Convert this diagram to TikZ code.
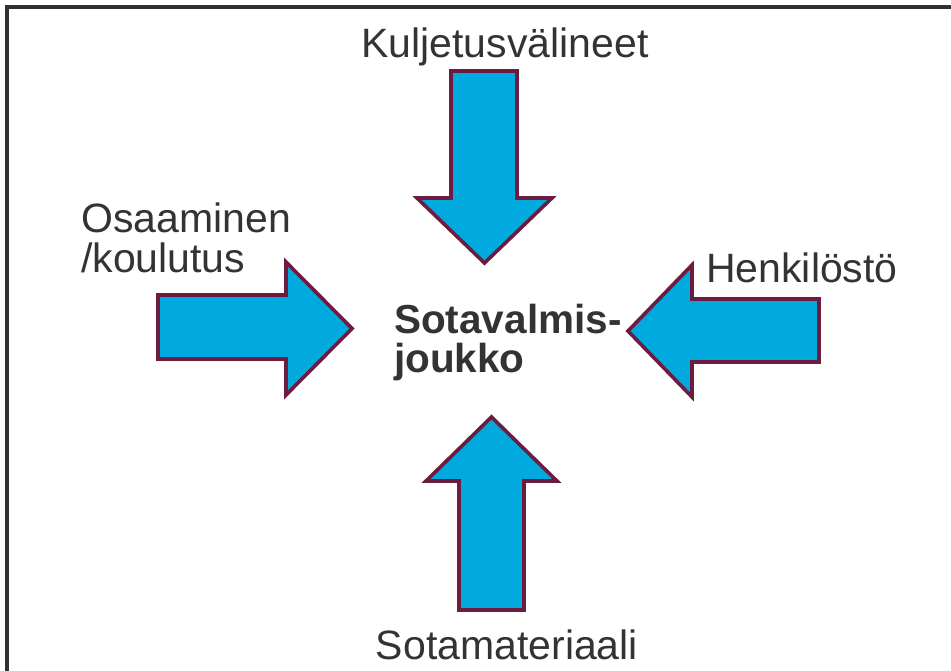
\documentclass[tikz,border=0pt]{standalone}
\usepackage{fontspec}
\setmainfont{Liberation Sans}
\usetikzlibrary{positioning}
\definecolor{nuolisin}{HTML}{00AADE}
\definecolor{nuolireuna}{HTML}{6D1B3F}
\definecolor{tekstiharmaa}{HTML}{333333}
\definecolor{kehys}{HTML}{303030}

\begin{document}
\begin{tikzpicture}[x=1pt,y=-1pt,
  nuoli/.style={fill=nuolisin,draw=nuolireuna,line width=3.6pt,line join=miter},
  otsikko/.style={text=tekstiharmaa,inner sep=0pt,font=\fontsize{41}{40}\selectfont}]
  \useasboundingbox (0,0) rectangle (951,670);
  % Kehys: vain vasen ja ylä reuna näkyvät
  \draw[kehys,line width=4pt] (7,672) -- (7,7) -- (953,7);
  % Nuolet keskustaa kohti
  \draw[nuoli] (451,71) -- (517,71) -- (517,198) -- (552,198) -- (484.5,263)
    -- (417,198) -- (451,198) -- cycle;
  \draw[nuoli] (158,295) -- (286,295) -- (286,262) -- (352,328.5) -- (286,395)
    -- (286,359) -- (158,359) -- cycle;
  \draw[nuoli] (819,299) -- (692,299) -- (692,265) -- (628,331) -- (692,397)
    -- (692,362) -- (819,362) -- cycle;
  \draw[nuoli] (459,610) -- (459,481) -- (426,481) -- (491.5,417) -- (557,481)
    -- (524,481) -- (524,610) -- cycle;
  % Tekstit
  \node[otsikko,anchor=base] (kuljetus) at (505,57) {Kuljetusvälineet};
  \node[otsikko,anchor=north west,align=left] (osaaminen) at (81,203) {Osaaminen\\/koulutus};
  \node[otsikko,anchor=base west] (henkilosto) at (706,282) {Henkilöstö};
  \node[otsikko,anchor=base] (materiaali) at (507,659) {Sotamateriaali};
  \node[otsikko,anchor=north west,align=left,font=\fontsize{40.5}{39}\selectfont\bfseries]
    (joukko) at (394,304) {Sotavalmis-\\joukko};
\end{tikzpicture}
\end{document}
